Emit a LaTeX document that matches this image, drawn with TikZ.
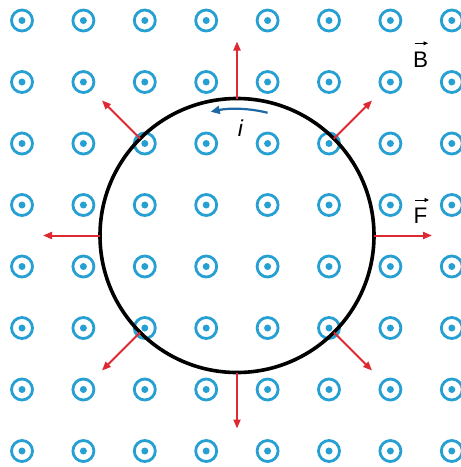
\documentclass[tikz,border=0pt]{standalone}
\usepackage{fontspec}
\setsansfont{Liberation Sans}
\usetikzlibrary{arrows.meta}
\definecolor{fieldblue}{RGB}{38,160,210}
\definecolor{forcered}{RGB}{222,40,50}
\definecolor{curblue}{RGB}{30,105,165}
\tikzset{
  fieldring/.style={draw=fieldblue, line width=2.8pt, circle, minimum size=21pt, inner sep=0pt},
  fielddot/.style={fill=fieldblue, circle, minimum size=7pt, inner sep=0pt},
  loop/.style={draw=black, line width=3.6pt},
  forcearrow/.style={draw=forcered, line width=2pt, -{Triangle[length=9pt,width=7pt]}},
  curarrow/.style={draw=curblue, line width=2.2pt, -{Triangle[length=9pt,width=8pt]}},
  vecarrow/.style={draw=black, line width=0.9pt, -{Triangle[length=4.5pt,width=4pt]}},
  lbl/.style={font=\sffamily\fontsize{22.5}{22.5}\selectfont, inner sep=0pt, anchor=base west}
}
\begin{document}
\begin{tikzpicture}[x=1pt,y=-1pt]
\useasboundingbox (0,0) rectangle (461,467);
\fill[white] (0,0) rectangle (461,467);
\foreach \i in {0,...,7}{
  \foreach \j in {0,...,7}{
    \node[fieldring] (r\i\j) at ({22+61.4*\i},{20.5+61.5*\j}) {};
    \node[fielddot] (d\i\j) at (r\i\j.center) {};
  }
}
\coordinate (c) at (237,235.5);
\draw[loop] (c) circle[radius=137];
\foreach \a/\l in {0/58,90/56,180/57,270/57,45/54,135/54,225/54,315/54}{
  \coordinate (s\a) at ([shift={(\a:137)}]c);
  \coordinate (t\a) at ([shift={(\a:137+\l)}]c);
  \draw[forcearrow] (s\a) -- (t\a);
}
\coordinate (cs) at ([shift={(-76:126.5)}]c);
\draw[curarrow] (cs) arc[start angle=-76, end angle=-102, radius=126.5];
\node[lbl, anchor=base, font=\sffamily\itshape\fontsize{23}{23}\selectfont] (ilab) at (240.5,136.7) {i};
\node[lbl] (blab) at (413,67.3) {B};
\node[lbl] (flab) at (413.5,223) {F};
\draw[vecarrow] ([shift={(1.5,-24)}]blab.base west) -- ([shift={(15,-24)}]blab.base west);
\draw[vecarrow] ([shift={(1.5,-23)}]flab.base west) -- ([shift={(15.5,-23)}]flab.base west);
\end{tikzpicture}
\end{document}
